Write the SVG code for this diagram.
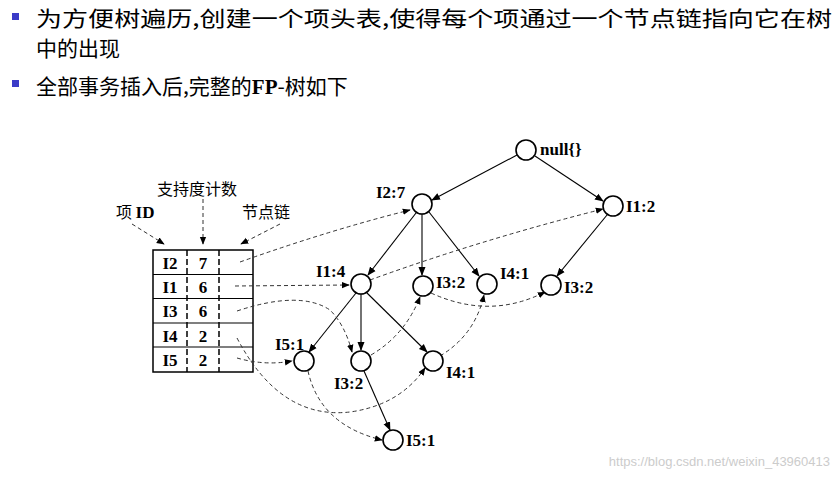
<svg xmlns="http://www.w3.org/2000/svg" width="840" height="479" viewBox="0 0 840 479">
<defs>
<marker id="a" viewBox="0 0 10 10" refX="9" refY="5" markerWidth="8" markerHeight="8" orient="auto"><path d="M0,1 L10,5 L0,9 z" fill="#000"/></marker>
<style>
.h{font-family:"Noto Sans CJK SC",sans-serif;font-size:21px;fill:#000}
.n{fill:#fff;stroke:#000;stroke-width:1.6}
.l{font-family:"Liberation Serif",serif;font-weight:bold;font-size:17px;fill:#000}
.c{font-family:"Noto Sans CJK SC",sans-serif;font-size:16px;fill:#000}
.s{stroke:#000;stroke-width:1.1;fill:none;marker-end:url(#a)}
.d{stroke:#333;stroke-width:1;fill:none;stroke-dasharray:4,3;marker-end:url(#a)}
</style>
</defs>
<rect x="0" y="0" width="840" height="479" fill="#fff"/>
<rect x="12" y="13" width="7" height="7" fill="#3b3bc8"/>
<rect x="12" y="80" width="7" height="7" fill="#3b3bc8"/>
<text class="h" x="36" y="26" textLength="796" lengthAdjust="spacingAndGlyphs">为方便树遍历,创建一个项头表,使得每个项通过一个节点链指向它在树</text>
<text class="h" x="36" y="56">中的出现</text>
<text class="h" x="36" y="94">全部事务插入后,完整的<tspan font-family="Liberation Serif" font-weight="bold">FP</tspan>-树如下</text>
<g id="table">
<rect x="153" y="250" width="100" height="122" fill="#fff" stroke="#000" stroke-width="1.5"/>
<path d="M153,274.5H253M153,298.5H253M153,323H253M153,347H253" stroke="#000" stroke-width="1.2"/>
<path d="M187,250V372M219,250V372" stroke="#000" stroke-width="1.5" stroke-dasharray="6,3"/>
<g class="l" text-anchor="middle">
<text x="170" y="269">I2</text><text x="203" y="269">7</text>
<text x="170" y="293">I1</text><text x="203" y="293">6</text>
<text x="170" y="317">I3</text><text x="203" y="317">6</text>
<text x="170" y="342">I4</text><text x="203" y="342">2</text>
<text x="170" y="366">I5</text><text x="203" y="366">2</text>
</g>
<text class="c" x="116" y="218">项 <tspan class="l">ID</tspan></text>
<text class="c" x="157" y="195">支持度计数</text>
<text class="c" x="242" y="218">节点链</text>
<path class="d" d="M132,224 L164,244"/>
<path class="d" d="M203,199 L203,244"/>
<path class="d" d="M280,224 L241,244"/>
</g>
<g id="connectors">
<path class="s" d="M517,155 L432,200"/>
<path class="s" d="M535,156 L603,201"/>
<path class="s" d="M416,213 L368,275"/>
<path class="s" d="M422,214 L422,275"/>
<path class="s" d="M429,212 L479,276"/>
<path class="s" d="M607,215 L557,276"/>
<path class="s" d="M356,293 L309,352"/>
<path class="s" d="M361,294 L361,350"/>
<path class="s" d="M367,293 L427,352"/>
<path class="s" d="M364,371 L390,430"/>
<path class="d" d="M240,262 Q330,230 410,210"/>
<path class="d" d="M235,286 L349,285"/>
<path class="d" d="M370,280 Q480,240 603,209"/>
<path class="d" d="M237,311 Q300,290 330,310 Q345,325 352,352"/>
<path class="d" d="M371,355 Q405,335 420,297"/>
<path class="d" d="M431,293 Q490,320 545,292"/>
<path class="d" d="M237,338 Q280,420 350,412 Q400,405 425,368"/>
<path class="d" d="M440,356 Q475,335 484,295"/>
<path class="d" d="M237,358 Q265,366 292,361"/>
<path class="d" d="M308,371 Q320,425 382,440"/>
</g>
<g id="nodes">
<g id="null"><circle class="n" cx="526" cy="150" r="10"/><text class="l" x="540" y="155">null{}</text></g>
<g id="i27"><circle class="n" cx="422" cy="204" r="10"/><text class="l" x="376" y="198">I2:7</text></g>
<g id="i12"><circle class="n" cx="613" cy="206" r="10"/><text class="l" x="626" y="212">I1:2</text></g>
<g id="i14"><circle class="n" cx="361" cy="284" r="10"/><text class="l" x="316" y="277">I1:4</text></g>
<g id="i32a"><circle class="n" cx="423" cy="286" r="10"/><text class="l" x="436" y="288">I3:2</text></g>
<g id="i41a"><circle class="n" cx="487" cy="284" r="10"/><text class="l" x="500" y="279">I4:1</text></g>
<g id="i32b"><circle class="n" cx="551" cy="285" r="10"/><text class="l" x="564" y="293">I3:2</text></g>
<g id="i51a"><circle class="n" cx="304" cy="361" r="10"/><text class="l" x="275" y="350">I5:1</text></g>
<g id="i32c"><circle class="n" cx="361" cy="361" r="10"/><text class="l" x="334" y="389">I3:2</text></g>
<g id="i41b"><circle class="n" cx="433" cy="361" r="10"/><text class="l" x="446" y="378">I4:1</text></g>
<g id="i51b"><circle class="n" cx="393" cy="440" r="10"/><text class="l" x="406" y="446">I5:1</text></g>
</g>
<text x="830" y="466" text-anchor="end" font-family="Liberation Sans,sans-serif" font-size="13" fill="#ccc">https://blog.csdn.net/weixin_43960413</text>
</svg>
